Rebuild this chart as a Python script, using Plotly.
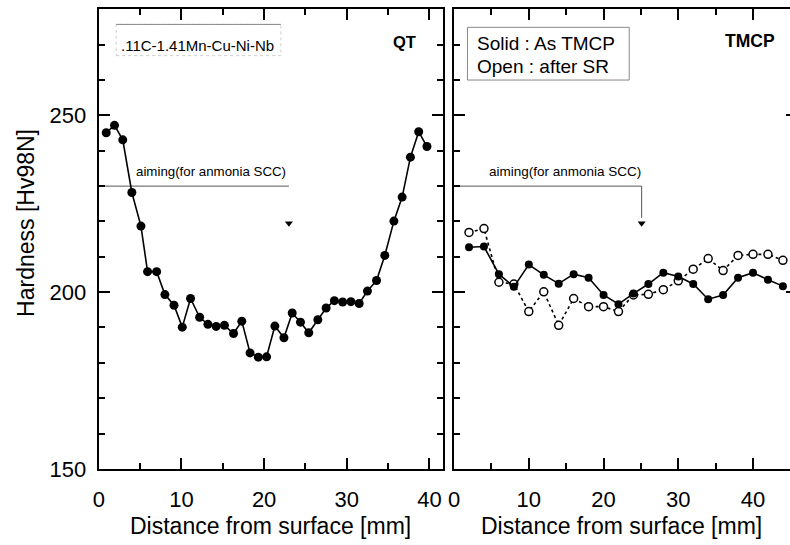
import plotly.graph_objects as go

# Hardness profiles through the plate thickness
qt_depth = [0.9, 1.9, 2.9, 4.0, 5.1, 5.9, 7.0, 8.0, 9.1, 10.1, 11.1, 12.2, 13.2,
            14.2, 15.2, 16.3, 17.3, 18.3, 19.3, 20.3, 21.3, 22.4, 23.4, 24.4,
            25.4, 26.5, 27.5, 28.5, 29.5, 30.5, 31.5, 32.5, 33.6, 34.6, 35.7,
            36.7, 37.7, 38.7, 39.7]
qt_hv = [245.1, 247.2, 243.1, 228.2, 218.7, 205.8, 205.8, 199.3, 196.3, 190.1,
         198.2, 192.9, 190.9, 190.3, 190.6, 188.3, 191.8, 182.8, 181.6, 181.7,
         190.4, 187.1, 194.1, 191.5, 188.5, 192.2, 195.5, 197.6, 197.2, 197.3,
         196.8, 200.3, 203.3, 210.4, 220.1, 226.9, 238.2, 245.4, 241.2]

tmcp_depth = [2, 4, 6, 8, 10, 12, 14, 16, 18, 20, 22, 24, 26, 28, 30, 32, 34,
              36, 38, 40, 42, 44]
tmcp_as_rolled = [212.7, 212.9, 205.1, 201.5, 207.8, 204.9, 202.4, 205.1, 204.1,
                  199.2, 196.6, 199.6, 202.3, 205.5, 204.4, 202.3, 198.0, 199.2,
                  204.1, 205.5, 203.5, 201.7]
tmcp_after_sr = [216.9, 218.0, 202.8, 202.3, 194.5, 200.1, 190.6, 198.2, 195.9,
                 195.9, 194.5, 199.2, 199.4, 200.7, 203.2, 206.5, 209.5, 206.1,
                 210.4, 210.7, 210.7, 209.0]

# Target hardness for ammonia SCC and the position of its marker arrow
aim_hv = 230
aim_arrow_hv = 219.5
aim_end_qt = 23.0
aim_end_tmcp = 25.1

x_ticks = [0, 10, 20, 30, 40]
y_ticks = [150, 200, 250]

W, H = 790, 545
FONT = "Arial, Liberation Sans, sans-serif"


def px(x):
    return x / W


def py(y):
    return 1 - y / H


fig = go.Figure()

# QT panel
fig.add_trace(go.Scatter(
    x=[0, aim_end_qt], y=[aim_hv, aim_hv], mode="lines",
    line=dict(color="#555555", width=1), xaxis="x", yaxis="y", showlegend=False))
fig.add_trace(go.Scatter(
    x=[aim_end_qt], y=[aim_arrow_hv], mode="markers",
    marker=dict(symbol="triangle-down", size=7, color="black"),
    xaxis="x", yaxis="y", showlegend=False))
fig.add_trace(go.Scatter(
    x=qt_depth, y=qt_hv, mode="lines+markers",
    line=dict(color="black", width=1.6),
    marker=dict(symbol="circle", size=9, color="black"),
    xaxis="x", yaxis="y", showlegend=False))

# TMCP panel
fig.add_trace(go.Scatter(
    x=tmcp_depth, y=tmcp_after_sr, mode="lines+markers",
    line=dict(color="black", width=1.6, dash="dot"),
    marker=dict(symbol="circle", size=8, color="white",
                line=dict(color="black", width=1.5)),
    xaxis="x2", yaxis="y2", showlegend=False))
fig.add_trace(go.Scatter(
    x=tmcp_depth, y=tmcp_as_rolled, mode="lines+markers",
    line=dict(color="black", width=1.6),
    marker=dict(symbol="circle", size=8, color="black"),
    xaxis="x2", yaxis="y2", showlegend=False))
fig.add_trace(go.Scatter(
    x=[0, aim_end_tmcp, aim_end_tmcp], y=[aim_hv, aim_hv, aim_arrow_hv + 1.5],
    mode="lines", line=dict(color="#555555", width=1),
    xaxis="x2", yaxis="y3", showlegend=False))
fig.add_trace(go.Scatter(
    x=[aim_end_tmcp], y=[aim_arrow_hv], mode="markers",
    marker=dict(symbol="triangle-down", size=7, color="black"),
    xaxis="x2", yaxis="y3", showlegend=False))

y_top = 9.3
y_bot = 480.3
y_dom = [py(y_bot), py(y_top)]
y_range = [150, 280.1]

common_x = dict(
    showline=True, linewidth=2.2, linecolor="black", mirror="ticks",
    ticks="inside", ticklen=11, tickwidth=1.5, tickcolor="black",
    tickmode="array", tickvals=x_ticks, ticktext=[str(v) for v in x_ticks],
    minor=dict(dtick=5, tick0=0, ticks="inside", ticklen=6, tickwidth=1.5,
               tickcolor="black", showgrid=False),
    showgrid=False, zeroline=False,
    tickfont=dict(family=FONT, size=22, color="black"),
    ticklabelstandoff=10,
)

fig.update_layout(
    width=W, height=H,
    margin=dict(l=0, r=0, t=0, b=0),
    paper_bgcolor="white", plot_bgcolor="white",
    xaxis=dict(domain=[px(93.5), px(440)], range=[0, 41.6], anchor="y", **common_x),
    xaxis2=dict(domain=[px(451.5), 1.0], range=[0, 44.95], anchor="y2", **common_x),
    yaxis=dict(
        domain=y_dom, range=y_range, anchor="x",
        showline=True, linewidth=2.2, linecolor="black", mirror="ticks",
        ticks="inside", ticklen=11, tickwidth=1.5, tickcolor="black",
        tickmode="array", tickvals=y_ticks, ticktext=[str(v) for v in y_ticks],
        minor=dict(dtick=10, tick0=150, ticks="inside", ticklen=6, tickwidth=1.5,
                   tickcolor="black", showgrid=False),
        showgrid=False, zeroline=False,
        tickfont=dict(family=FONT, size=22, color="black"),
        ticklabelstandoff=6,
    ),
    yaxis2=dict(
        domain=y_dom, range=y_range, anchor="x2",
        showline=True, linewidth=2.2, linecolor="black", mirror=False,
        ticks="inside", ticklen=11, tickwidth=1.5, tickcolor="black",
        tickmode="array", tickvals=y_ticks, showticklabels=False,
        minor=dict(dtick=10, tick0=150, ticks="inside", ticklen=6, tickwidth=1.5,
                   tickcolor="black", showgrid=False),
        showgrid=False, zeroline=False,
    ),
    yaxis3=dict(
        overlaying="y2", side="right", anchor="x2", range=y_range,
        showline=False, ticks="inside", ticklen=4, tickwidth=1.5, tickcolor="black",
        tickmode="array", tickvals=y_ticks, showticklabels=False,
        showgrid=False, zeroline=False,
    ),
)

# Composition label box (QT panel)
fig.add_shape(type="rect", xref="paper", yref="paper",
              x0=px(111), x1=px(277), y0=py(57), y1=py(25),
              line=dict(color="#cccccc", width=1, dash="dot"))
fig.add_shape(type="line", xref="paper", yref="paper",
              x0=px(111), x1=px(277), y0=py(25), y1=py(25),
              line=dict(color="#888888", width=1))
# Symbol key box (TMCP panel)
fig.add_shape(type="rect", xref="paper", yref="paper",
              x0=px(465), x1=px(628), y0=py(82), y1=py(28),
              line=dict(color="#888888", width=1))

ann = [
    dict(text=".11C-1.41Mn-Cu-Ni-Nb", x=px(114), y=py(46.7), xanchor="left",
         yanchor="middle", font=dict(size=15)),
    dict(text="<b>QT</b>", x=px(401.5), y=py(43), xanchor="center",
         yanchor="middle", font=dict(size=16.5)),
    dict(text="<b>TMCP</b>", x=px(750), y=py(41.5), xanchor="center",
         yanchor="middle", font=dict(size=17.5)),
    dict(text="Solid : As TMCP", x=px(473), y=py(44.5), xanchor="left",
         yanchor="middle", font=dict(size=19)),
    dict(text="Open : after SR", x=px(473), y=py(68.5), xanchor="left",
         yanchor="middle", font=dict(size=19)),
    dict(text="Hardness [Hv98N]", x=px(20), y=py(228.5), xanchor="center",
         yanchor="middle", textangle=-90, font=dict(size=23)),
    dict(text="Distance from surface [mm]", x=px(266.7), y=py(539),
         xanchor="center", yanchor="middle", font=dict(size=23)),
    dict(text="Distance from surface [mm]", x=px(620.7), y=py(539),
         xanchor="center", yanchor="middle", font=dict(size=23)),
]
for a in ann:
    a["font"].update(family=FONT, color="black")
    fig.add_annotation(xref="paper", yref="paper", showarrow=False, **a)

fig.add_annotation(text="aiming(for anmonia SCC)", x=4.25, y=234.1, xref="x", yref="y",
                   xanchor="left", yanchor="middle", showarrow=False,
                   font=dict(family=FONT, size=13.3, color="black"))
fig.add_annotation(text="aiming(for anmonia SCC)", x=4.45, y=234.0, xref="x2", yref="y2",
                   xanchor="left", yanchor="middle", showarrow=False,
                   font=dict(family=FONT, size=13.5, color="black"))

fig.write_html("out.html")
